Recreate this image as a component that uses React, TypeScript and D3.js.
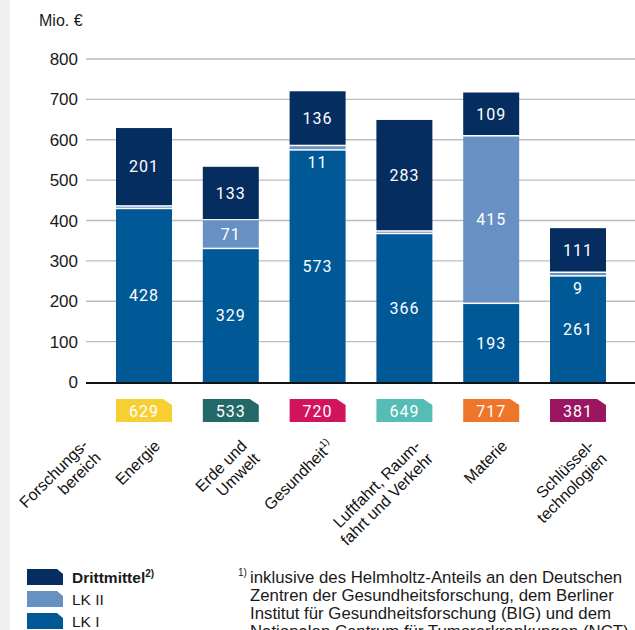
import React from "react";
import * as d3 from "d3";

// values in Mio. €
const categories = ["Energie", "Erde und Umwelt", "Gesundheit", "Luftfahrt, Raumfahrt und Verkehr", "Materie", "Schlüsseltechnologien"];
const lk1 = [428, 329, 573, 366, 193, 261];
const lk2 = [0, 71, 11, 0, 415, 9];
const drittmittel = [201, 133, 136, 283, 109, 111];
const totals = [629, 533, 720, 649, 717, 381];
const labelLines = [
  ["Energie"],
  ["Erde und", "Umwelt"],
  ["Gesundheit"],
  ["Luftfahrt, Raum-", "fahrt und Verkehr"],
  ["Materie"],
  ["Schlüssel-", "technologien"],
];
const badgeColors = ["#f6cf33", "#23696a", "#d2145c", "#55bdb5", "#ee762a", "#9b1660"];
const yTicks = [0, 100, 200, 300, 400, 500, 600, 700, 800];
const footnoteLines = [
  "inklusive des Helmholtz-Anteils an den Deutschen",
  "Zentren der Gesundheitsforschung, dem Berliner",
  "Institut für Gesundheitsforschung (BIG) und dem",
  "Nationalen Centrum für Tumorerkrankungen (NCT)",
];

const keys = ["lk1", "lk2", "drittmittel"];
const seriesColors: Record<string, string> = { lk1: "#005897", lk2: "#6891c3", drittmittel: "#052d60" };
const legendItems = [
  { key: "drittmittel", label: "Drittmittel", sup: "2)", bold: true },
  { key: "lk2", label: "LK II", sup: "", bold: false },
  { key: "lk1", label: "LK I", sup: "", bold: false },
];

const W = 635;
const H = 630;
const plotLeft = 86;
const gap = 1.5;
const font = "'Liberation Sans', Arial, sans-serif";
const numFont = "Roboto, 'Liberation Sans', sans-serif";

export default function App() {
  const rows = categories.map((c, i) => ({ cat: c, lk1: lk1[i], lk2: lk2[i], drittmittel: drittmittel[i] }));
  const stacked = d3.stack<any>().keys(keys)(rows);

  const x = d3.scaleBand().domain(categories).range([100.6, 621.4]).paddingInner(0.355).paddingOuter(0.1775);
  const y = d3.scaleLinear().domain([0, 800]).range([382, 59]);
  const bw = x.bandwidth();

  // pixel stacking with white gaps between segments
  const segs: any[] = [];
  categories.forEach((c, i) => {
    let prevTop = y(0);
    keys.forEach((k, ki) => {
      const d = stacked[ki][i];
      const bottom = ki === 0 ? y(0) : prevTop - gap;
      let top = y(d[1]);
      if (top > bottom - 1) top = bottom - 1;
      segs.push({ cat: c, key: k, value: d[1] - d[0], top, bottom });
      prevTop = top;
    });
  });

  const badgePath = (x0: number) => {
    const y0 = 399, h = 23, cut = 9;
    return `M${x0},${y0}H${x0 + bw - cut}L${x0 + bw},${y0 + 6}V${y0 + h}H${x0}Z`;
  };

  return (
    <svg width={W} height={H} style={{ display: "block", position: "absolute", left: 0, top: 0 }}>
      <rect x={0} y={0} width={W} height={H} fill="#fff" />
      <rect x={0} y={0} width={10} height={H} fill="#eef0f2" />

      <text x={39} y={26} fontFamily={font} fontSize={16} fill="#1a1a1a">Mio. €</text>

      {/* grid + y ticks */}
      {yTicks.map((t) => (
        <g key={t}>
          {t > 0 && <line x1={plotLeft} x2={W} y1={y(t)} y2={y(t)} stroke="#b9bdc1" strokeWidth={1.3} />}
          <text x={78} y={y(t)} dy="0.36em" textAnchor="end" fontFamily={font} fontSize={17} fill="#1a1a1a">{t}</text>
        </g>
      ))}

      {/* bars */}
      {segs.map((s, i) => (
        <rect key={i} x={x(s.cat)} y={s.top} width={bw} height={s.bottom - s.top} fill={seriesColors[s.key]} />
      ))}
      <line x1={plotLeft} x2={W} y1={y(0) + 1} y2={y(0) + 1} stroke="#111" strokeWidth={2} />

      {/* segment labels */}
      {segs.filter((s) => s.value > 0).map((s, i) => {
        const h = s.bottom - s.top;
        const cy = h > 20 ? (s.top + s.bottom) / 2 : s.bottom + gap + 11.5;
        return (
          <text key={i} x={(x(s.cat) as number) + bw / 2} y={cy} dy="0.36em" textAnchor="middle"
            fontFamily={numFont} fontSize={16} letterSpacing={1} fill="#fff">{s.value}</text>
        );
      })}

      {/* totals badges */}
      {categories.map((c, i) => (
        <g key={c}>
          <path d={badgePath(x(c) as number)} fill={badgeColors[i]} />
          <text x={(x(c) as number) + bw / 2} y={411} dy="0.36em" textAnchor="middle"
            fontFamily={numFont} fontSize={16} letterSpacing={1} fill="#fff">{totals[i]}</text>
        </g>
      ))}

      {/* category labels */}
      <text transform="translate(89,446) rotate(-45)" textAnchor="end" fontFamily={font} fontSize={16} fill="#111">
        <tspan x={0} y={0}>Forschungs-</tspan>
        <tspan x={0} y={18}>bereich</tspan>
      </text>
      {categories.map((c, i) => (
        <text key={c} transform={`translate(${(x(c) as number) + bw / 2 + 17},447) rotate(-45)`} textAnchor="end"
          fontFamily={font} fontSize={16} fill="#111">
          {labelLines[i].map((l, j) => (
            <tspan key={j} x={0} y={j * 18}>
              {l}
              {c === "Gesundheit" && <tspan fontSize={10} dy={-7}>1)</tspan>}
            </tspan>
          ))}
        </text>
      ))}

      {/* legend */}
      {legendItems.map((it, i) => {
        const ly = 569 + i * 22;
        return (
          <g key={it.key}>
            <path d={`M27,${ly}H57L63,${ly + 5}V${ly + 16}H27Z`} fill={seriesColors[it.key]} />
            <text x={72} y={ly + 13.5} fontFamily={font} fontSize={15.5} fontWeight={it.bold ? "bold" : "normal"} fill="#1a1a1a">
              {it.label}
              {it.sup && <tspan fontSize={10} dy={-6}>{it.sup}</tspan>}
            </text>
          </g>
        );
      })}

      {/* footnote */}
      <text x={238} y={576} fontFamily={font} fontSize={10} fill="#1a1a1a">1)</text>
      {footnoteLines.map((l, i) => (
        <text key={i} x={250} y={583 + i * 18} fontFamily={font} fontSize={16.8} fill="#1a1a1a">{l}</text>
      ))}
    </svg>
  );
}
